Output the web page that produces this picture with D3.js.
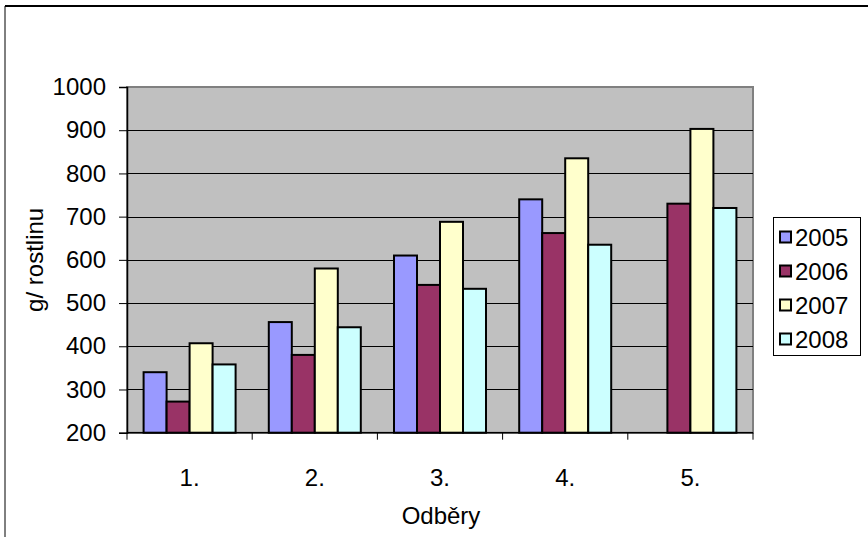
<!DOCTYPE html>
<html><head><meta charset="utf-8">
<script src="https://cdn.jsdelivr.net/npm/d3@7"></script>
<style>body{margin:0;background:#fff}svg{display:block}text{font-family:"Liberation Sans",Arial,sans-serif}</style>
</head><body><svg id="c" width="868" height="537"></svg>
<script>
const categories = ["1.", "2.", "3.", "4.", "5."];
const seriesNames = ["2005", "2006", "2007", "2008"];
const v2005 = [340, 456, 610, 740, null];
const v2006 = [272, 380, 542, 662, 730];
const v2007 = [407, 580, 688, 835, 903];
const v2008 = [358, 444, 533, 635, 720];
const yTicks = [200, 300, 400, 500, 600, 700, 800, 900, 1000];
const colors = ["#9999FF", "#993366", "#FFFFCC", "#CCFFFF"];
const values = [v2005, v2006, v2007, v2008];
const FS = 24;

const svg = d3.select("#c");
svg.append("line").attr("x1", 5).attr("x2", 868).attr("y1", 6).attr("y2", 6).attr("stroke", "#000").attr("stroke-width", 2);
svg.append("line").attr("x1", 5).attr("x2", 5).attr("y1", 6).attr("y2", 537).attr("stroke", "#000").attr("stroke-width", 1);

const L = 127, R = 753, T = 87, B = 432.7;
const y = d3.scaleLinear().domain([200, 1000]).range([B, T]);
const x0 = d3.scaleBand().domain(categories).range([L, R]).paddingInner(0).paddingOuter(0);
const x1 = d3.scaleBand().domain(seriesNames).range([16.6, x0.bandwidth() - 16.6]).padding(0);

svg.append("rect").attr("x", L).attr("y", T).attr("width", R - L).attr("height", B - T)
  .attr("fill", "#C0C0C0").attr("stroke", "#808080").attr("stroke-width", 2);

svg.append("g").selectAll("line").data(yTicks.filter(d => d > 200 && d < 1000)).join("line")
  .attr("x1", L).attr("x2", R).attr("y1", d => Math.round(y(d)) + 0.5).attr("y2", d => Math.round(y(d)) + 0.5)
  .attr("stroke", "#000").attr("stroke-width", 1);

const rows = [];
categories.forEach((c, i) => seriesNames.forEach((s, j) => {
  if (values[j][i] != null) rows.push({c, s, v: values[j][i], col: colors[j]});
}));
svg.append("g").selectAll("rect").data(rows).join("rect")
  .attr("x", d => x0(d.c) + x1(d.s))
  .attr("y", d => y(d.v))
  .attr("width", x1.bandwidth())
  .attr("height", d => y(200) - y(d.v))
  .attr("fill", d => d.col).attr("stroke", "#000").attr("stroke-width", 2);

const yAxis = svg.append("g").attr("transform", `translate(${L},0)`)
  .call(d3.axisLeft(y).tickValues(yTicks).tickFormat(d3.format("d")).tickSize(8).tickPadding(13));
yAxis.select(".domain").attr("stroke", "#000").attr("stroke-width", 1.5);
yAxis.selectAll("text").attr("font-size", FS).attr("fill", "#000").attr("font-family", "Liberation Sans, Arial, sans-serif");

const xAxisG = svg.append("g").attr("transform", `translate(0,${B})`);
xAxisG.append("line").attr("x1", L).attr("x2", R).attr("y1", 0).attr("y2", 0).attr("stroke", "#000").attr("stroke-width", 1.5);
const bounds = d3.range(categories.length + 1).map(i => L + i * x0.step());
xAxisG.selectAll("line.tk").data(bounds).join("line").attr("class", "tk")
  .attr("x1", d => d).attr("x2", d => d).attr("y1", 0).attr("y2", 7).attr("stroke", "#000");
xAxisG.selectAll("text").data(categories).join("text")
  .attr("x", d => x0(d) + x0.bandwidth() / 2).attr("y", 53)
  .attr("text-anchor", "middle").attr("font-size", FS).text(d => d);

svg.append("text").attr("x", 441).attr("y", 524).attr("text-anchor", "middle").attr("font-size", FS).text("Odběry");
svg.append("text").attr("transform", `translate(43,${(T + B) / 2}) rotate(-90)`).attr("text-anchor", "middle")
  .attr("font-size", FS).text("g/ rostlinu");

const lg = svg.append("g");
lg.append("rect").attr("x", 773.5).attr("y", 217.5).attr("width", 87).attr("height", 138)
  .attr("fill", "#fff").attr("stroke", "#000").attr("stroke-width", 1);
const items = lg.selectAll("g.it").data(seriesNames).join("g").attr("class", "it")
  .attr("transform", (d, i) => `translate(780,${237 + i * 34})`);
items.append("rect").attr("x", 0).attr("y", -5.5).attr("width", 11).attr("height", 11)
  .attr("fill", (d, i) => colors[i]).attr("stroke", "#000").attr("stroke-width", 2);
items.append("text").attr("x", 15).attr("y", 8.5).attr("font-size", FS).text(d => d);
</script></body></html>
